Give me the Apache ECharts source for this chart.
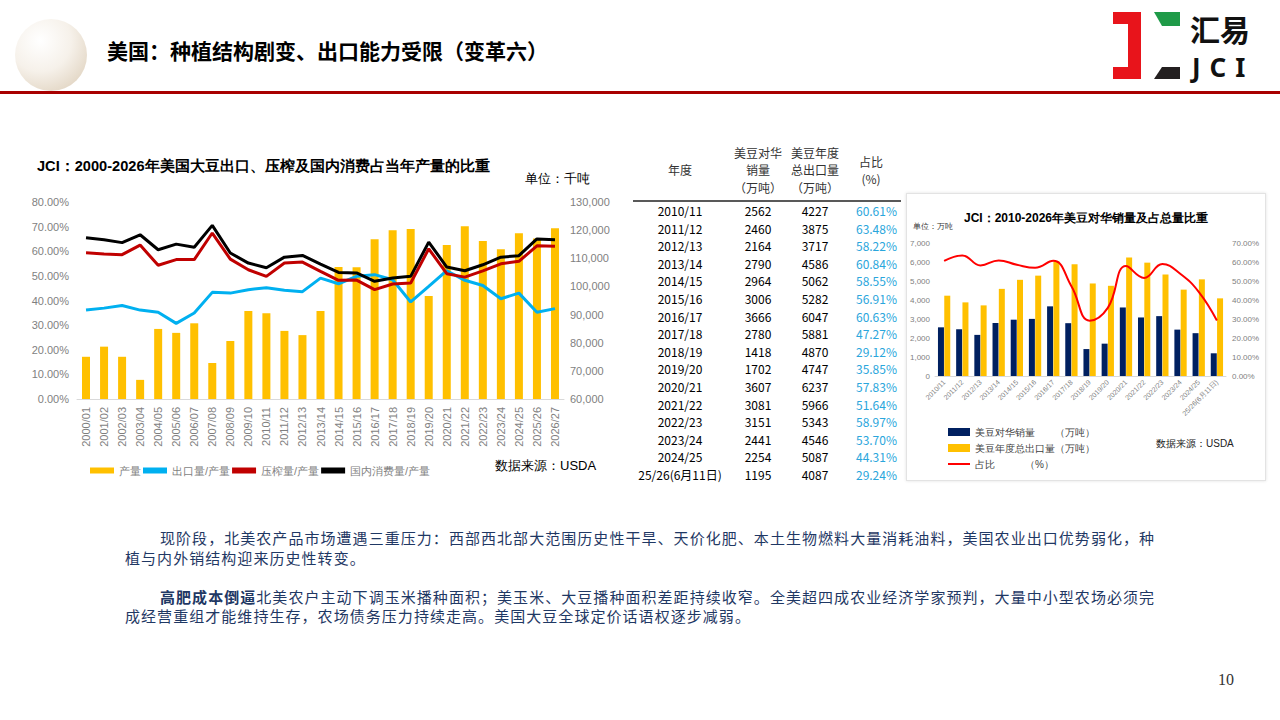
<!DOCTYPE html>
<html lang="zh-CN">
<head>
<meta charset="UTF-8">
<title>美国：种植结构剧变、出口能力受限（变革六）</title>
<style>
    body { margin: 0; width: 1280px; height: 720px; position: relative; overflow: hidden; background: #fff;
        font-family: "Noto Sans CJK SC", "Noto Sans", sans-serif; }
    .abs { position: absolute; }
    #ball { left: 15px; top: 19px; width: 72px; height: 72px; border-radius: 50%;
        background: radial-gradient(circle at 35% 30%, #ffffff 0%, #f6f1ea 45%, #d9c9b2 100%); }
    #pageTitle { left: 107px; top: 35px; font-size: 21px; font-weight: bold; color: #000; white-space: nowrap; }
    #redLine { left: 0; top: 91px; width: 1280px; height: 3px; background: #a80000; }
    #left { left: 20px; top: 140px; width: 600px; height: 345px; }
    #right { left: 906px; top: 193px; width: 358px; height: 286px; border: 1px solid #e3e3e3;
        box-shadow: 0 0 3px rgba(0,0,0,0.12); }
    #tbl { left: 633px; top: 140px; width: 268px; border-collapse: collapse; font-size: 12px; color: #000; }
    #tbl th { font-weight: normal; line-height: 17.5px; height: 60px; vertical-align: middle; padding: 0;
        border-bottom: 2px solid #595959; color: #333; }
    #tbl td { height: 17.6px; line-height: 17.6px; padding: 0; text-align: center; }
    #tbl td.pct { color: #2aa6dc; text-align: right; padding-right: 4px; }
    #txt { left: 125px; top: 528px; font-size: 15px; line-height: 19.5px; letter-spacing: 1.05px;
        color: #1f3864; white-space: nowrap; }
    #txt b { color: #1f3864; }
    #pageNo { left: 1218px; top: 671px; font-size: 16px; font-family: "Liberation Serif", serif; color: #333; }
</style>
</head>
<body>
<div id="ball" class="abs"></div>
<div id="pageTitle" class="abs">美国：种植结构剧变、出口能力受限（变革六）</div>
<svg class="abs" style="left:0;top:0" width="1280" height="92">
    <polygon points="1113,12 1141,12 1141,79 1113,79 1113,67 1128,67 1128,24 1113,24" fill="#e8141b"/>
    <polygon points="1154,12 1180,12 1180,26 1162,26" fill="#1f9a48"/>
    <polygon points="1162,67 1180,67 1180,79 1154,79" fill="#231f20"/>
    <text x="1190" y="41" font-size="30" font-weight="bold" fill="#111" font-family="Noto Sans CJK SC">汇易</text>
    <text x="1192" y="77" font-size="26" font-weight="bold" fill="#111" font-family="Noto Sans" letter-spacing="9">JCI</text>
</svg>
<div id="redLine" class="abs"></div>

<div id="left" class="abs"></div>
<table id="tbl" class="abs"></table>
<div id="right" class="abs"></div>

<div id="txt" class="abs">
    <div style="padding-left:35px">现阶段，北美农产品市场遭遇三重压力：西部西北部大范围历史性干旱、天价化肥、本土生物燃料大量消耗油料，美国农业出口优势弱化，种</div>
    <div>植与内外销结构迎来历史性转变。</div>
    <div>&nbsp;</div>
    <div style="padding-left:35px"><b>高肥成本倒逼</b>北美农户主动下调玉米播种面积；美玉米、大豆播种面积差距持续收窄。全美超四成农业经济学家预判，大量中小型农场必须完</div>
    <div>成经营重组才能维持生存，农场债务压力持续走高。美国大豆全球定价话语权逐步减弱。</div>
</div>
<div id="pageNo" class="abs">10</div>

<script src="https://cdn.jsdelivr.net/npm/echarts@6.0.0/dist/echarts.min.js"></script>
<script>
    // 左图：2000-2026年美国大豆产量（千吨）及出口、压榨、国内消费占比（%）
    var leftYears = ['2000/01', '2001/02', '2002/03', '2003/04', '2004/05', '2005/06', '2006/07', '2007/08', '2008/09',
        '2009/10', '2010/11', '2011/12', '2012/13', '2013/14', '2014/15', '2015/16', '2016/17', '2017/18', '2018/19',
        '2019/20', '2020/21', '2021/22', '2022/23', '2023/24', '2024/25', '2025/26', '2026/27'];
    var production = [75000, 78600, 75000, 66800, 84900, 83500, 86900, 72800, 80600, 91300, 90500, 84200, 82700,
        91300, 106900, 106800, 116800, 120000, 120400, 96600, 114700, 121400, 116100, 113200, 118900, 117000, 120700];
    var exportRatio = [36.1, 36.9, 38.0, 36.1, 35.2, 30.7, 34.9, 43.3, 43.0, 44.4, 45.2, 44.2, 43.6,
        49.1, 46.8, 49.8, 50.5, 48.4, 39.4, 45.7, 52.1, 48.2, 46.1, 40.7, 43.0, 35.2, 36.7];
    var crushRatio = [59.4, 58.9, 58.6, 62.5, 54.3, 56.6, 56.6, 67.4, 56.8, 52.5, 49.8, 55.2, 55.6,
        51.8, 48.2, 48.3, 44.4, 46.7, 47.1, 61.0, 50.9, 49.5, 52.0, 54.9, 55.9, 62.2, 62.0];
    var domesticRatio = [65.5, 64.7, 63.5, 66.7, 60.6, 62.9, 61.6, 70.5, 59.3, 55.2, 53.3, 57.6, 58.3,
        54.8, 51.4, 51.2, 47.8, 49.1, 49.8, 63.7, 53.6, 52.1, 54.5, 57.6, 58.2, 65.0, 64.7];

    // 表格与右图：美豆对华销量、年度总出口量（万吨）及占比（%）
    var tableYears = ['2010/11', '2011/12', '2012/13', '2013/14', '2014/15', '2015/16', '2016/17', '2017/18',
        '2018/19', '2019/20', '2020/21', '2021/22', '2022/23', '2023/24', '2024/25', '25/26(6月11日)'];
    var chinaSales = [2562, 2460, 2164, 2790, 2964, 3006, 3666, 2780, 1418, 1702, 3607, 3081, 3151, 2441, 2254, 1195];
    var totalExports = [4227, 3875, 3717, 4586, 5062, 5282, 6047, 5881, 4870, 4747, 6237, 5966, 5343, 4546, 5087, 4087];
    var sharePct = [60.61, 63.48, 58.22, 60.84, 58.55, 56.91, 60.63, 47.27, 29.12, 35.85, 57.83, 51.64, 58.97,
        53.70, 44.31, 29.24];

    var tableHead = ['年度', '美豆对华<br>销量<br>（万吨）', '美豆年度<br>总出口量<br>（万吨）', '占比<br>(%)'];

    // 表格
    var html = '<colgroup><col style="width:94px"><col style="width:62px"><col style="width:52px"><col style="width:60px"></colgroup><tr>';
    for (var i = 0; i < tableHead.length; i++) {
        html += '<th>' + tableHead[i] + '</th>';
    }
    html += '</tr>';
    for (var i = 0; i < tableYears.length; i++) {
        html += '<tr><td>' + tableYears[i] + '</td><td>' + chinaSales[i] + '</td><td>' + totalExports[i] +
            '</td><td class="pct">' + sharePct[i].toFixed(2) + '%</td></tr>';
    }
    document.getElementById('tbl').innerHTML = html;

    var gray = '#7f7f7f';

    var leftChart = echarts.init(document.getElementById('left'), null, { renderer: 'svg' });
    leftChart.setOption({
        animation: false,
        title: {
            text: 'JCI：2000-2026年美国大豆出口、压榨及国内消费占当年产量的比重',
            left: 12, top: 13,
            textStyle: { fontSize: 14.6, fontWeight: 'bold', color: '#000' }
        },
        graphic: [
            { type: 'text', left: 505, top: 32, style: { text: '单位：千吨', fontSize: 13, fill: '#000' } },
            { type: 'text', left: 475, top: 319, style: { text: '数据来源：USDA', fontSize: 13, fill: '#000' } }
        ],
        legend: {
            left: 65, top: 320, icon: 'rect', itemWidth: 24, itemHeight: 6, itemGap: 2,
            textStyle: { fontSize: 11, color: gray },
            data: ['产量', '出口量/产量', '压榨量/产量', '国内消费量/产量']
        },
        grid: { left: 57, right: 56, top: 62, bottom: 86 },
        xAxis: {
            type: 'category',
            data: leftYears,
            axisTick: { show: false },
            axisLine: { lineStyle: { color: '#d9d9d9' } },
            axisLabel: { rotate: 90, interval: 0, fontSize: 11, color: gray }
        },
        yAxis: [{
            type: 'value', min: 0, max: 80, interval: 10,
            splitLine: { show: false },
            axisLabel: { fontSize: 11, color: gray, formatter: function (v) { return v.toFixed(2) + '%'; } }
        }, {
            type: 'value', min: 60000, max: 130000, interval: 10000,
            splitLine: { show: false },
            axisLabel: { fontSize: 11, color: gray, margin: 6, formatter: function (v) { return v.toLocaleString('en-US'); } }
        }],
        series: [{
            name: '产量', type: 'bar', yAxisIndex: 1, data: production, barWidth: 8,
            itemStyle: { color: '#ffc000' }
        }, {
            name: '出口量/产量', type: 'line', data: exportRatio, showSymbol: false,
            lineStyle: { color: '#00b0f0', width: 3 }, itemStyle: { color: '#00b0f0' }
        }, {
            name: '压榨量/产量', type: 'line', data: crushRatio, showSymbol: false,
            lineStyle: { color: '#c00000', width: 3 }, itemStyle: { color: '#c00000' }
        }, {
            name: '国内消费量/产量', type: 'line', data: domesticRatio, showSymbol: false,
            lineStyle: { color: '#000000', width: 3 }, itemStyle: { color: '#000000' }
        }]
    });

    var rightChart = echarts.init(document.getElementById('right'), null, { renderer: 'svg' });
    rightChart.setOption({
        animation: false,
        title: {
            text: 'JCI：2010-2026年美豆对华销量及占总量比重',
            left: 'center', top: 13,
            textStyle: { fontSize: 12, fontWeight: 'bold', color: '#000' }
        },
        graphic: [
            { type: 'text', left: 6, top: 28, style: { text: '单位：万吨', fontSize: 8, fill: '#333' } },
            { type: 'text', left: 249, top: 244, style: { text: '数据来源：USDA', fontSize: 10, fill: '#222' } }
        ],
        legend: {
            orient: 'vertical', left: 36, top: 228, itemWidth: 22, itemHeight: 8, itemGap: 6,
            textStyle: { fontSize: 10, color: '#404040' },
            data: [
                { name: '美豆对华销量　　（万吨）', icon: 'rect' },
                { name: '美豆年度总出口量（万吨）', icon: 'rect' },
                { name: '占比　　　（%）', icon: 'path://M0,3 L22,3 L22,5 L0,5 Z', itemStyle: { color: '#ff0000' } }
            ]
        },
        grid: { left: 27, right: 39, top: 49, bottom: 104 },
        xAxis: {
            type: 'category',
            data: tableYears,
            axisTick: { show: false },
            axisLine: { lineStyle: { color: '#d9d9d9' } },
            axisLabel: { rotate: 45, interval: 0, fontSize: 7, color: gray, margin: 5 }
        },
        yAxis: [{
            type: 'value', min: 0, max: 7000, interval: 1000,
            splitLine: { show: false },
            axisLabel: { fontSize: 8, color: gray, margin: 5 }
        }, {
            type: 'value', min: 0, max: 70, interval: 10,
            splitLine: { show: false },
            axisLabel: { fontSize: 8, color: gray, margin: 6, formatter: function (v) { return v.toFixed(2) + '%'; } }
        }],
        series: [{
            name: '美豆对华销量　　（万吨）', type: 'bar', data: chinaSales, barWidth: 6, barGap: '5%',
            itemStyle: { color: '#002060' }
        }, {
            name: '美豆年度总出口量（万吨）', type: 'bar', data: totalExports, barWidth: 6,
            itemStyle: { color: '#ffc000' }
        }, {
            name: '占比　　　（%）', type: 'line', yAxisIndex: 1, data: sharePct, smooth: 0.45, showSymbol: false,
            lineStyle: { color: '#ff0000', width: 2 }, itemStyle: { color: '#ff0000' }
        }]
    });
</script>
</body>
</html>
